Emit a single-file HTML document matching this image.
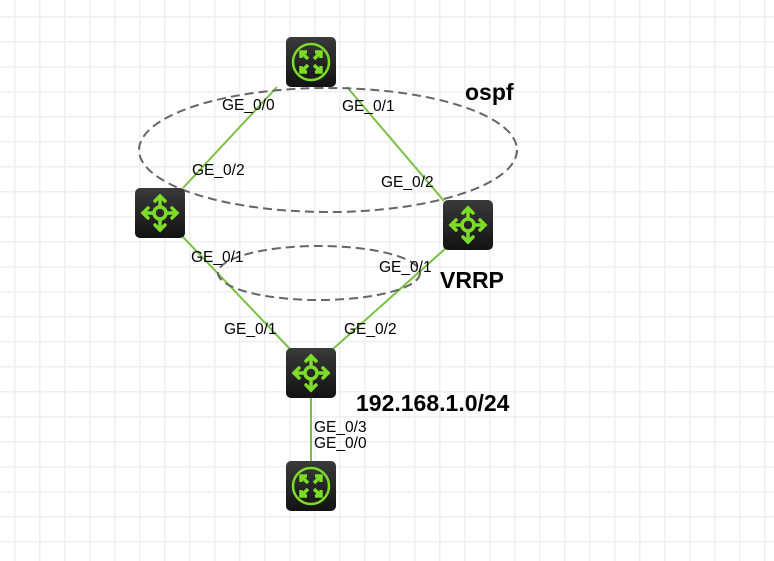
<!DOCTYPE html>
<html><head><meta charset="utf-8"><style>
html,body{margin:0;padding:0;width:774px;height:561px;overflow:hidden;background:#fff;}
svg{display:block;}
text{font-family:"Liberation Sans",sans-serif;}
</style></head><body>
<svg width="774" height="561" viewBox="0 0 774 561">
<defs>
<pattern id="g" x="14" y="16" width="25" height="25" patternUnits="userSpaceOnUse">
<path d="M0.5 0V25M0 0.5H25" stroke="#efefef" stroke-width="2" fill="none"/>
</pattern>
<linearGradient id="bg" x1="0" y1="0" x2="0" y2="1">
<stop offset="0" stop-color="#3a3a3a"/><stop offset="1" stop-color="#121212"/>
</linearGradient>
<g id="sw">
<rect x="0" y="0" width="50" height="50" rx="5" fill="url(#bg)"/>
<g stroke="#7ddc28" stroke-width="3.5" fill="none" stroke-linecap="round">
<circle cx="25" cy="25" r="6"/>
<path d="M25 8V19M25 31V42M8 25H19M31 25H42"/>
<path d="M20 13L25 8L30 13M20 37L25 42L30 37M13 20L8 25L13 30M37 20L42 25L37 30"/>
</g>
</g>
<g id="rt">
<rect x="0" y="0" width="50" height="50" rx="5" fill="url(#bg)"/>
<circle cx="25" cy="25" r="18" stroke="#7ddc28" stroke-width="2.5" fill="none"/>
<g stroke="#7ddc28" stroke-width="3.5" fill="none">
<path d="M15 15L22 22M35 35L28 28M35 15L28 22M15 35L22 28"/>
<path d="M15 21V15H21M35 29V35H29M29 15H35V21M21 35H15V29"/>
</g>
</g>
</defs>
<rect width="774" height="561" fill="url(#g)"/>
<g stroke="#7ac142" stroke-width="2">
<line x1="277" y1="87" x2="183" y2="188"/>
<line x1="347" y1="87" x2="444" y2="201"/>
<line x1="183" y1="237" x2="290" y2="349"/>
<line x1="446" y1="248" x2="333" y2="349"/>
<line x1="311" y1="398" x2="311" y2="462"/>
</g>
<g stroke="#666" stroke-width="2" fill="none" stroke-dasharray="9,5">
<ellipse cx="328" cy="150" rx="189" ry="62"/>
<ellipse cx="319" cy="273" rx="101" ry="27"/>
</g>
<use href="#rt" x="286" y="37"/>
<use href="#sw" x="135" y="188"/>
<use href="#sw" x="443" y="200"/>
<use href="#sw" x="286" y="348"/>
<use href="#rt" x="286" y="461"/>
<g font-size="15.5" fill="#000">
<text x="222" y="110">GE_0/0</text>
<text x="342" y="111">GE_0/1</text>
<text x="192" y="175">GE_0/2</text>
<text x="381" y="187">GE_0/2</text>
<text x="191" y="262">GE_0/1</text>
<text x="379" y="272">GE_0/1</text>
<text x="224" y="334">GE_0/1</text>
<text x="344" y="334">GE_0/2</text>
<text x="314" y="432">GE_0/3</text>
<text x="314" y="448">GE_0/0</text>
</g>
<g font-size="23" font-weight="bold" fill="#000">
<text x="465" y="100">ospf</text>
<text x="440" y="288">VRRP</text>
<text x="356" y="411">192.168.1.0/24</text>
</g>
</svg>
</body></html>
